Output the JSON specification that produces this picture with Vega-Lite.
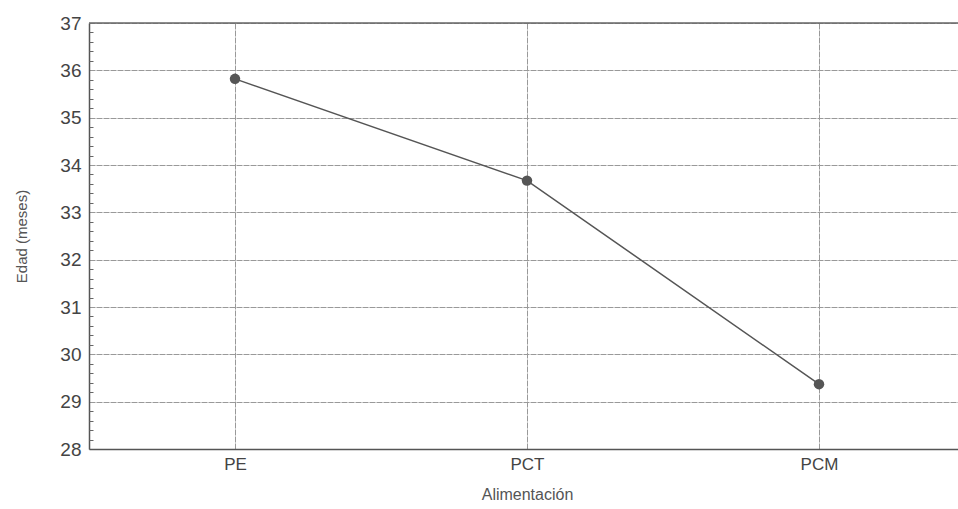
{
  "$schema": "https://vega.github.io/schema/vega-lite/v6.json",
  "autosize": "none",
  "width": 876,
  "height": 426,
  "padding": {"left": 89, "top": 23, "right": 0, "bottom": 60},
  "background": "white",
  "config": {
    "view": {"stroke": null},
    "font": "Liberation Sans"
  },
  "data": {"values": [
    {"grupo": "PE", "edad": 35.82},
    {"grupo": "PCT", "edad": 33.67},
    {"grupo": "PCM", "edad": 29.37}
  ]},
  "resolve": {"axis": {"y": "independent"}},
  "layer": [
    {
      "data": {"values": [{"v": 37}]},
      "mark": {"type": "rule", "color": "#666", "strokeWidth": 1.5},
      "encoding": {"y": {"field": "v", "type": "quantitative", "scale": {"domain": [28, 37], "nice": false, "zero": false}, "axis": null}}
    },
    {
      "mark": {"type": "line", "color": "#555", "strokeWidth": 1.5},
      "encoding": {
        "x": {
          "field": "grupo", "type": "ordinal", "sort": ["PE", "PCT", "PCM"],
          "scale": {"type": "point", "padding": 0.5},
          "axis": {
            "title": "Alimentación", "titleFont": "Liberation Sans", "titleFontSize": 16, "titleFontWeight": "normal", "titleColor": "#555555", "titlePadding": 14,
            "labelFont": "Liberation Sans", "labelFontSize": 17, "labelColor": "#444444", "labelAngle": 0, "labelPadding": 7,
            "domainColor": "#555555", "domainWidth": 1.5, "ticks": false,
            "grid": true, "gridColor": "#999999", "gridWidth": 1, "gridDash": [6, 1]
          }
        },
        "y": {
          "field": "edad", "type": "quantitative",
          "scale": {"domain": [28, 37], "nice": false, "zero": false},
          "axis": {
            "orient": "left",
            "title": "Edad (meses)", "titleFont": "Liberation Sans", "titleFontSize": 15, "titleFontWeight": "normal", "titleColor": "#555555", "titlePadding": 30,
            "values": [28, 29, 30, 31, 32, 33, 34, 35, 36, 37],
            "labelFont": "Liberation Sans", "labelFontSize": 19, "labelColor": "#444444", "labelPadding": 8,
            "domainColor": "#555555", "domainWidth": 1.5, "ticks": false,
            "grid": true, "gridColor": "#999999", "gridWidth": 1, "gridDash": [6, 1]
          }
        }
      }
    },
    {
      "mark": {"type": "point", "filled": true, "color": "#555555", "size": 110, "opacity": 1},
      "encoding": {
        "x": {"field": "grupo", "type": "ordinal", "sort": ["PE", "PCT", "PCM"]},
        "y": {"field": "edad", "type": "quantitative", "axis": null}
      }
    },
    {
      "data": {"values": [{"v": 28}]},
      "mark": {"type": "rule", "opacity": 0},
      "encoding": {
        "y": {"field": "v", "type": "quantitative",
          "axis": {
            "orient": "left", "title": null, "labels": false, "grid": false, "domain": false,
            "values": [28.2, 28.4, 28.6, 28.8, 29.2, 29.4, 29.6, 29.8, 30.2, 30.4, 30.6, 30.8, 31.2, 31.4, 31.6, 31.8, 32.2, 32.4, 32.6, 32.8, 33.2, 33.4, 33.6, 33.8, 34.2, 34.4, 34.6, 34.8, 35.2, 35.4, 35.6, 35.8, 36.2, 36.4, 36.6, 36.8],
            "ticks": true, "tickSize": -4, "tickColor": "#666666", "tickWidth": 1, "offset": 0
          }
        }
      }
    }
  ]
}
